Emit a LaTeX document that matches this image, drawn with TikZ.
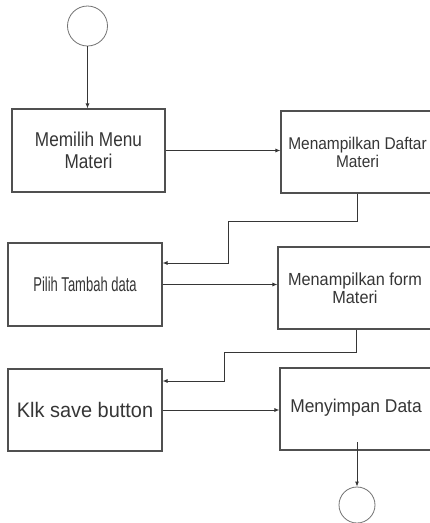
\documentclass[tikz,border=0pt]{standalone}
\usepackage{fontspec}
\setmainfont{Liberation Sans}
\usetikzlibrary{arrows.meta}
\definecolor{ink}{HTML}{363636}
\definecolor{edge}{HTML}{505050}
\tikzset{
  actbox/.style={draw=edge, line width=1.1pt, rectangle, inner sep=0pt, text=ink, align=center},
  endpt/.style={draw=edge!80, line width=0.8pt, circle, inner sep=0pt},
  arr/.style={draw=ink, line width=0.9pt, -{Latex[length=5pt,width=4pt]}},
}
\newcommand{\boxfont}[3]{\fontsize{#1}{#2}\selectfont\addfontfeatures{FakeStretch=#3}}
\begin{document}
\begin{tikzpicture}[x=1pt,y=-1pt]
\clip (0,0) rectangle (430,523);
\fill[white] (0,0) rectangle (430,523);
% start / end
\node[endpt, minimum size=40pt] (start) at (87.5,26) {};
\node[endpt, minimum size=36pt] (stop) at (357,505) {};
% boxes
\node[actbox, minimum width=153pt, minimum height=83pt, font=\boxfont{20}{22}{0.86}] (b1) at (88.5,150.5) {Memilih Menu\\Materi};
\node[actbox, minimum width=153pt, minimum height=82pt, font=\boxfont{17}{18}{0.91}, text depth=-2pt] (b2) at (357.5,152) {Menampilkan Daftar\\Materi};
\node[actbox, minimum width=154pt, minimum height=83pt, font=\boxfont{20}{22}{0.65}] (b3) at (85,284.5) {Pilih Tambah data};
\node[actbox, minimum width=154pt, minimum height=82pt, font=\boxfont{17.5}{17.5}{0.93}] (b4) at (355,288) {Menampilkan form\\Materi};
\node[actbox, minimum width=154pt, minimum height=82pt, font=\boxfont{21}{22}{0.95}] (b5) at (85,410) {Klk save button};
\node[actbox, minimum width=152pt, minimum height=82pt, font=\boxfont{18.5}{20}{0.94}, text depth=6pt] (b6) at (356,409) {Menyimpan Data};
% turning points
\coordinate (t1) at (228,221);
\coordinate (y1) at (0,263);
\coordinate (t2) at (224,352);
\coordinate (y2) at (0,381);
\coordinate (s6) at (357,442);
% connectors
\draw[arr] (start.south) -- (start.south |- b1.north);
\draw[arr] (b1.east) -- (b1.east -| b2.west);
\draw[arr] (b2.south) |- (t1) |- (b3.east |- y1);
\draw[arr] (b3.east) -- (b3.east -| b4.west);
\draw[arr] ([xshift=1pt]b4.south) |- (t2) |- (b5.east |- y2);
\draw[arr] (b5.east) -- (b5.east -| b6.west);
\draw[arr] (s6) -- (stop.north);
\end{tikzpicture}
\end{document}
